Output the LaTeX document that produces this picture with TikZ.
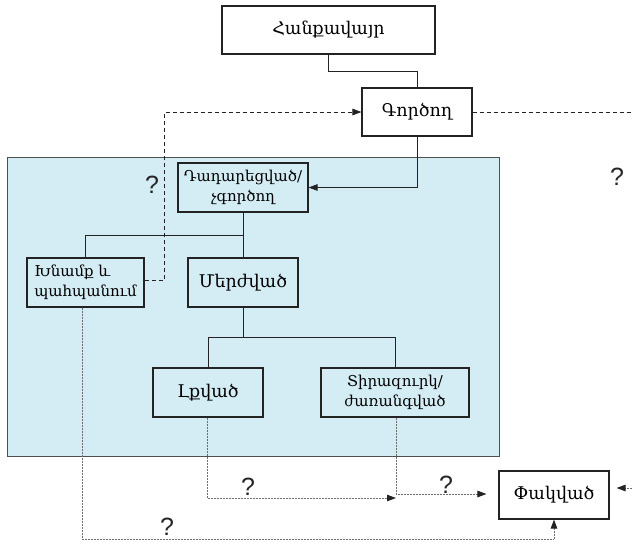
\documentclass[tikz,border=0pt]{standalone}
\usepackage{fontspec}
\newfontfamily\arm{DejaVu Serif}
\newfontfamily\qfont{Liberation Sans}
\usetikzlibrary{arrows.meta}
\definecolor{zone}{RGB}{212,236,243}
\definecolor{edge}{RGB}{35,35,35}
\definecolor{dotc}{RGB}{110,110,110}
\tikzset{
  box/.style={draw=edge,line width=1.1pt,inner sep=0pt,align=center,text=black,font=\arm\fontsize{17.5}{20}\selectfont},
  smallbox/.style={box,font=\arm\fontsize{15}{20}\selectfont},
  conn/.style={draw=edge,line width=0.7pt},
  dashline/.style={draw=edge,line width=0.8pt,dash pattern=on 4pt off 3pt},
  dotline/.style={draw=dotc,line width=1pt,dash pattern=on 0.9pt off 0.6pt},
  tip/.style={-{Triangle[length=9pt,width=6.5pt,color=edge]}},
  qmark/.style={font=\qfont\fontsize{25}{25}\selectfont,text=black!85,inner sep=0pt}
}
\begin{document}
\begin{tikzpicture}[x=1pt,y=-1pt]
\useasboundingbox (0,0) rectangle (632,542);
\fill[zone,draw=edge!80,line width=0.8pt] (7,157) rectangle (499,456);
\node[box,minimum width=213pt,minimum height=48pt] (hq) at (328.5,30) {Հանքավայր};
\node[box,minimum width=110pt,minimum height=48pt] (go) at (417,112) {Գործող};
\node[smallbox,minimum width=130pt,minimum height=49pt] (dd) at (243,187.5) {Դադարեցված/\\չգործող};
\node[smallbox,minimum width=117pt,minimum height=49pt,align=left] (kh) at (85.5,282.5) {Խնամք և\\պահպանում};
\node[box,minimum width=110pt,minimum height=49pt] (mz) at (243,282.5) {Մերժված};
\node[box,minimum width=110pt,minimum height=49pt] (lq) at (208,392.5) {Լքված};
\node[smallbox,minimum width=148pt,minimum height=49pt] (tr) at (395,392.5) {Տիրազուրկ/\\ժառանգված};
\node[box,minimum width=110pt,minimum height=48pt] (ph) at (554,495) {Փակված};
\coordinate (j1) at (243,235);
\coordinate (j2) at (243,337);
\coordinate (rend) at (632,112);
\coordinate (rstart) at (632,488);
\coordinate (lqend) at (396,498);
% solid connectors
\draw[conn] (hq.south) -- ++(0,17) -| (go.north);
\draw[conn,tip] (go.south) |- (dd.east);
\draw[conn] (dd.south) -- (mz.north);
\draw[conn] (j1) -| (kh.north);
\draw[conn] (mz.south) -- (j2);
\draw[conn] (j2) -| (lq.north);
\draw[conn] (j2) -| (tr.north);
% dashed
\draw[dashline,tip] ([yshift=2.5pt]kh.east) -- ++(20,0) |- (go.west);
\draw[dashline] (go.east) -- (rend);
% dotted
\draw[dotline,tip] ([xshift=-1pt]lq.south) |- (lqend);
\draw[dotline,tip,shorten >=12pt] ([xshift=1pt]tr.south) |- ([yshift=1pt]ph.west);
\draw[dotline,tip] ([xshift=-3.5pt]kh.south) -- (82,539) -| (ph.south);
\draw[dotline,tip,shorten >=7pt] (rstart) -- ([yshift=7pt]ph.east);
% question marks
\node[qmark] (q1) at (152,185) {?};
\node[qmark] (q2) at (617,177) {?};
\node[qmark] (q3) at (248,487) {?};
\node[qmark] (q4) at (446,485) {?};
\node[qmark] (q5) at (167,527) {?};
\end{tikzpicture}
\end{document}
